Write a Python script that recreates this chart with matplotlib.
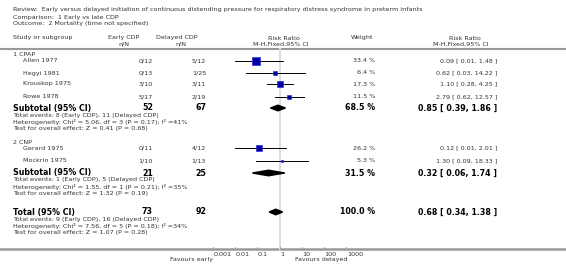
import matplotlib.pyplot as plt
import numpy as np
from matplotlib.patches import Polygon

# study rows
studies = ['Allen 1977', 'Hegyi 1981', 'Krouskop 1975', 'Rowe 1978', 'Gerard 1975', 'Mockrin 1975']
early = ['0/12', '0/13', '3/10', '5/17', '0/11', '1/10']
delayed = ['5/12', '1/25', '3/11', '2/19', '4/12', '1/13']
weight = [33.4, 6.4, 17.3, 11.5, 26.2, 5.3]
rr = [0.09, 0.62, 1.10, 2.79, 0.12, 1.30]
lo = [0.01, 0.03, 0.28, 0.62, 0.01, 0.09]
hi = [1.48, 14.22, 4.25, 12.57, 2.01, 18.33]

# pooled rows: subtotal CPAP, subtotal CNP, total
pool_label = ['Subtotal (95% CI)', 'Subtotal (95% CI)', 'Total (95% CI)']
pool_early = ['52', '21', '73']
pool_delayed = ['67', '25', '92']
pool_weight = [68.5, 31.5, 100.0]
pool_rr = [0.85, 0.32, 0.68]
pool_lo = [0.39, 0.06, 0.34]
pool_hi = [1.86, 1.74, 1.38]
pool_notes = [
    ['Total events: 8 (Early CDP), 11 (Delayed CDP)',
     'Heterogeneity: Chi² = 5.06, df = 3 (P = 0.17); I² =41%',
     'Test for overall effect: Z = 0.41 (P = 0.68)'],
    ['Total events: 1 (Early CDP), 5 (Delayed CDP)',
     'Heterogeneity: Chi² = 1.55, df = 1 (P = 0.21); I² =35%',
     'Test for overall effect: Z = 1.32 (P = 0.19)'],
    ['Total events: 9 (Early CDP), 16 (Delayed CDP)',
     'Heterogeneity: Chi² = 7.56, df = 5 (P = 0.18); I² =34%',
     'Test for overall effect: Z = 1.07 (P = 0.28)'],
]
groups = ['1 CPAP', '2 CNP']
ticks = [0.001, 0.01, 0.1, 1, 10, 100, 1000]
tick_labels = ['0.001', '0.01', '0.1', '1', '10', '100', '1000']

# layout (pixel rows)
study_y = [61, 73, 84, 97, 148, 161]
pool_y = [108, 173, 212]
group_y = [54, 142]

W, H = 566, 272
fig = plt.figure(figsize=(W / 100, H / 100), dpi=100)
ax = fig.add_axes([0, 0, 1, 1])
ax.set_xlim(0, W)
ax.set_ylim(H, 0)
ax.axis('off')

fs = 4.55
fsb = 5.7
grey = '#333333'

ax.text(13, 10, 'Review:  Early versus delayed initiation of continuous distending pressure for respiratory distress syndrome in preterm infants',
        fontsize=fs, va='center', color=grey)
ax.text(13, 17, 'Comparison:  1 Early vs late CDP', fontsize=fs, va='center', color=grey)
ax.text(13, 24, 'Outcome:  2 Mortality (time not specified)', fontsize=fs, va='center', color=grey)

ax.text(13, 38, 'Study or subgroup', fontsize=fs, va='center', color=grey)
ax.text(124, 38, 'Early CDP', fontsize=fs, va='center', ha='center', color=grey)
ax.text(124, 44, 'n/N', fontsize=fs, va='center', ha='center', color=grey)
ax.text(177, 38, 'Delayed CDP', fontsize=fs, va='center', ha='center', color=grey)
ax.text(181, 44, 'n/N', fontsize=fs, va='center', ha='center', color=grey)
ax.text(284, 38, 'Risk Ratio', fontsize=fs, va='center', ha='center', color=grey)
ax.text(281, 44, 'M-H,Fixed,95% CI', fontsize=fs, va='center', ha='center', color=grey)
ax.text(362, 38, 'Weight', fontsize=fs, va='center', ha='center', color=grey)
ax.text(465, 38, 'Risk Ratio', fontsize=fs, va='center', ha='center', color=grey)
ax.text(461, 44, 'M-H,Fixed,95% CI', fontsize=fs, va='center', ha='center', color=grey)

ax.plot([0, W], [48.5, 48.5], color='#999999', lw=1.5)
ax.plot([0, W], [249, 249], color='#999999', lw=1.8)

for g, y in zip(groups, group_y):
    ax.text(13, y, g, fontsize=fs, va='center', color=grey)

for i, y in enumerate(study_y):
    ax.text(23, y, studies[i], fontsize=fs, va='center', color=grey)
    ax.text(153, y, early[i], fontsize=fs, va='center', ha='right', color=grey)
    ax.text(206, y, delayed[i], fontsize=fs, va='center', ha='right', color=grey)
    ax.text(375, y, f'{weight[i]:.1f} %', fontsize=fs, va='center', ha='right', color=grey)
    ax.text(497, y, f'{rr[i]:.2f} [ {lo[i]:.2f}, {hi[i]:.2f} ]', fontsize=fs, va='center', ha='right', color=grey)

for i, y in enumerate(pool_y):
    ax.text(13, y, pool_label[i], fontsize=fsb, va='center', weight='bold')
    ax.text(153, y, pool_early[i], fontsize=fsb, va='center', ha='right', weight='bold')
    ax.text(206, y, pool_delayed[i], fontsize=fsb, va='center', ha='right', weight='bold')
    ax.text(375, y, f'{pool_weight[i]:.1f} %', fontsize=fsb, va='center', ha='right', weight='bold')
    ax.text(497, y, f'{pool_rr[i]:.2f} [ {pool_lo[i]:.2f}, {pool_hi[i]:.2f} ]', fontsize=fsb, va='center', ha='right', weight='bold')
    for k, note in enumerate(pool_notes[i]):
        ax.text(13, y + 7 + 6.6 * k, note, fontsize=fs, va='center', color=grey)

ax.text(213, 259, 'Favours early', fontsize=fs, va='center', ha='right', color=grey)
ax.text(295, 259, 'Favours delayed', fontsize=fs, va='center', ha='left', color=grey)

# forest panel: log scale from 0.001 (x=213px) to 1000 (x=346px)
fx = fig.add_axes([213 / W, 0, (346 - 213) / W, 1])
fx.set_xscale('log')
fx.set_xlim(0.001, 1000)
fx.set_ylim(H, 0)
fx.axis('off')
fx.patch.set_alpha(0)

fx.plot([1, 1], [49, 249], color='#dddddd', lw=1.5, zorder=0)

for i, y in enumerate(study_y):
    fx.plot([lo[i], hi[i]], [y, y], color='black', lw=0.7, zorder=2)
    side = 1.25 * np.sqrt(weight[i])
    fx.plot([rr[i]], [y], marker='s', ms=side * 0.72, color='#0000a0',
            mec='#3030e0', mew=0.5, zorder=3)

for i, y in enumerate(pool_y):
    h = 2.8
    fx.add_patch(Polygon([[pool_lo[i], y], [pool_rr[i], y - h], [pool_hi[i], y], [pool_rr[i], y + h]],
                         closed=True, color='black', zorder=3))

for t, lab in zip(ticks, tick_labels):
    fx.plot([t, t], [247, 249], color='#999999', lw=0.6, clip_on=False)
    fx.text(t * 1.08, 254, lab, fontsize=fs, va='center', ha='left', color=grey, clip_on=False)

fig.savefig('out.png', dpi=100)
